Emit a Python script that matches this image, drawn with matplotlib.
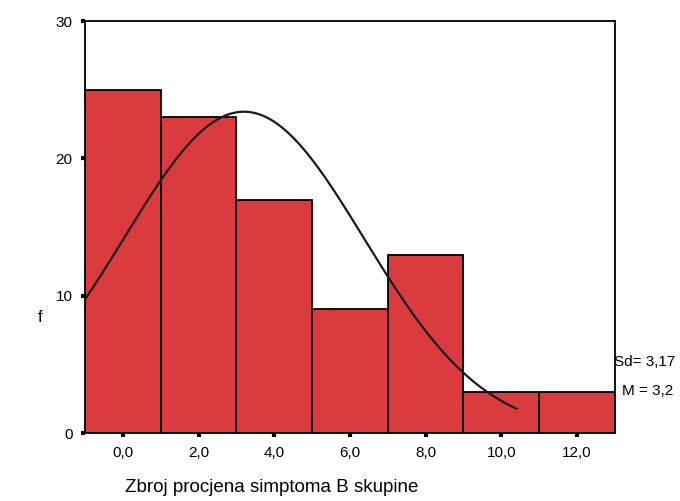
import matplotlib.pyplot as plt
import numpy as np

plt.rcParams['font.family'] = ['Liberation Sans', 'DejaVu Sans']

# histogram of summed symptom scores (bin centres, width 2)
bin_centres = [0, 2, 4, 6, 8, 10, 12]
counts = [25, 23, 17, 9, 13, 3, 3]
bin_width = 2
mean = 3.2
sd = 3.17
xticks = [0, 2, 4, 6, 8, 10, 12]
xtick_labels = ['0,0', '2,0', '4,0', '6,0', '8,0', '10,0', '12,0']
yticks = [0, 10, 20, 30]


def main():
    fig = plt.figure(figsize=(6.8, 5.01), dpi=100)
    ax = fig.add_axes([0.125, 0.1357, 0.779, 0.822])

    ax.bar(bin_centres, counts, width=bin_width, color='#DB3A3E',
           edgecolor='black', linewidth=1.3, zorder=2)

    # fitted normal curve scaled to counts
    n = sum(counts)
    xs = np.linspace(-1, 10.4, 200)
    ys = n * bin_width / (sd * np.sqrt(2 * np.pi)) * np.exp(-0.5 * ((xs - mean) / sd) ** 2)
    ax.plot(xs, ys, color='#1a1a1a', lw=1.6, zorder=3)

    ax.set_xlim(-1, 13)
    ax.set_ylim(0, 30)
    ax.set_xticks(xticks)
    ax.set_xticklabels(xtick_labels)
    ax.set_yticks(yticks)
    ax.tick_params(direction='out', length=3, width=3, labelsize=11, pad=6)
    for s in ax.spines.values():
        s.set_linewidth(1.3)

    fig.text(40 / 680, 1 - 318 / 501, 'f', fontsize=12, ha='center', va='center')
    fig.text(272 / 680, 1 - 488 / 501, 'Zbroj procjena simptoma B skupine',
             fontsize=13.5, ha='center', va='center')
    fig.text(614 / 680, 1 - 362 / 501, 'Sd= 3,17', fontsize=11, ha='left', va='center')
    fig.text(622 / 680, 1 - 391 / 501, 'M = 3,2', fontsize=11, ha='left', va='center')

    fig.savefig('out.png', dpi=100)


if __name__ == '__main__':
    main()
